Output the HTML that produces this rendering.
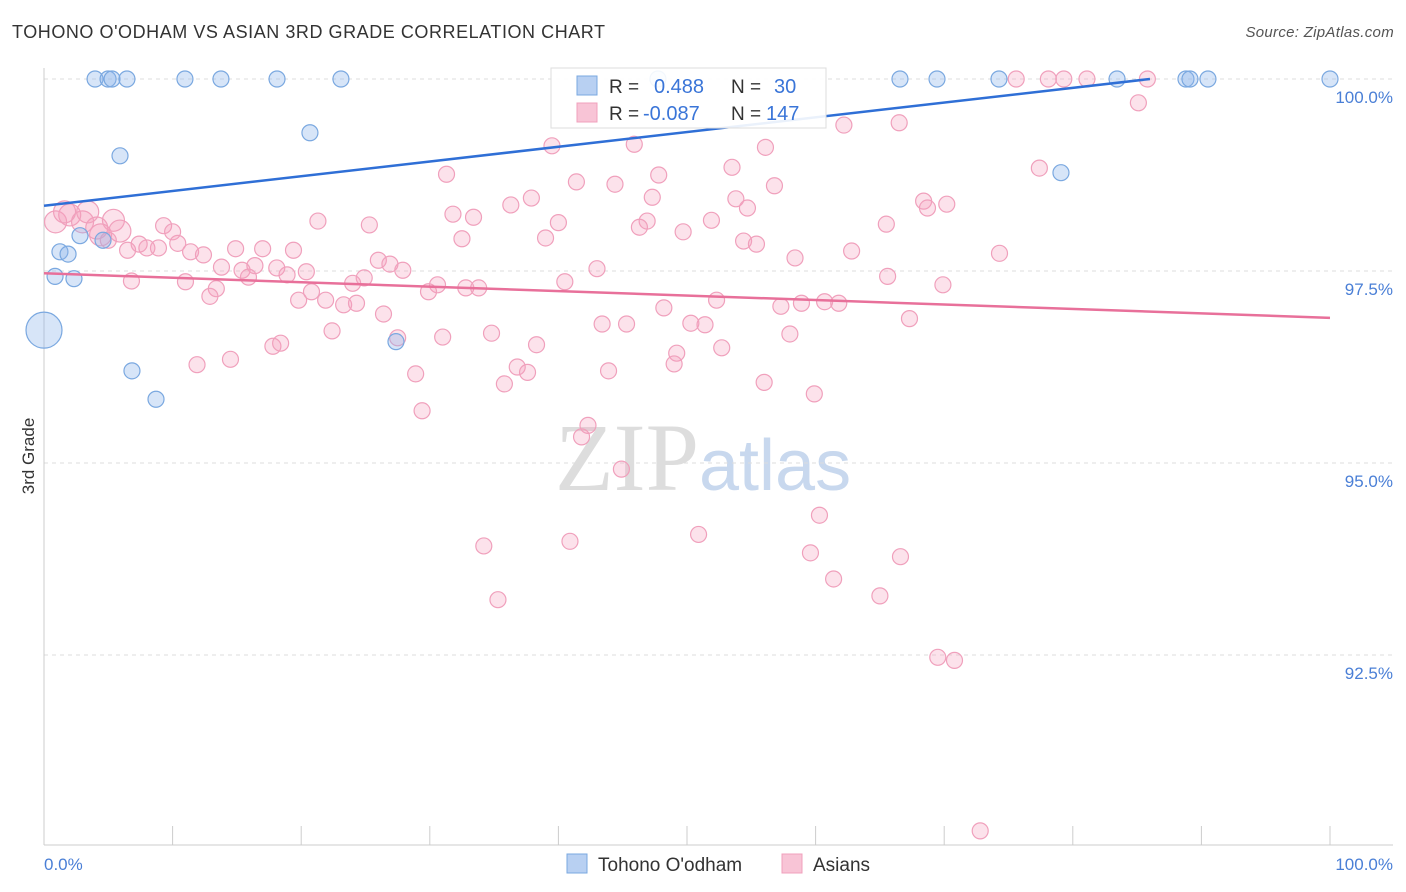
<!DOCTYPE html>
<html><head><meta charset="utf-8">
<style>
body{margin:0;background:#fff;font-family:"Liberation Sans",sans-serif;}
#wrap{position:relative;width:1406px;height:892px;overflow:hidden;}
.t{position:absolute;white-space:nowrap;}
</style></head>
<body>
<div id="wrap">
<div class="t" style="left:12px;top:22px;font-size:18px;color:#333;letter-spacing:0.55px">TOHONO O'ODHAM VS ASIAN 3RD GRADE CORRELATION CHART</div>
<div class="t" style="right:12px;top:24px;font-size:15px;color:#555;font-style:italic;letter-spacing:0.3px">Source: ZipAtlas.com</div>
<svg id="chart" width="1406" height="892" style="position:absolute;left:0;top:0"></svg>
</div>
<script>
const blueX=[3.97,4.98,5.29,6.45,10.96,13.76,18.12,23.09,47.74,66.56,69.44,74.26,83.44,88.8,89.11,90.51,100,20.68,5.91,79.08,2.8,4.59,1.24,1.87,0.86,2.33,0,27.37,6.84,8.71];
const blueY=[100,100,100,100,100,100,100,100,100,100,100,100,100,100,100,100,100,99.30,99.00,98.78,97.96,97.90,97.75,97.72,97.43,97.40,96.73,96.58,96.20,95.83];
const pinkX=[75.6,78.1,79.3,81.1,85.8,85.1,62.2,66.5,39.5,45.9,56.1,53.5,77.4,31.3,47.8,41.4,44.4,56.8,37.9,47.3,53.8,36.3,68.4,70.2,68.7,54.7,31.8,33.4,21.3,25.3,40.0,46.9,46.3,51.9,65.5,49.7,32.5,39.0,54.4,55.4,14.9,17.0,19.4,62.8,74.3,58.4,26.0,26.9,13.8,16.4,18.1,15.4,27.9,43.0,18.9,20.4,15.9,65.6,24.9,11.0,24.0,40.5,30.6,69.9,13.4,32.8,33.8,29.9,20.8,12.9,19.8,21.9,23.3,24.3,52.3,58.9,60.7,61.8,57.3,48.2,26.4,67.3,43.4,45.3,50.3,51.4,22.4,34.8,31.0,58.0,27.5,17.8,18.4,38.3,52.7,49.2,11.9,14.5,49.0,36.8,37.6,43.9,28.9,35.8,56.0,59.9,29.4,42.3,41.8,44.9,60.3,50.9,40.9,34.2,59.6,66.6,61.4,35.3,65.0,69.5,70.8,72.8,0.9,2.0,3.0,4.1,5.4,5.9,5.0,6.5,7.4,8.0,8.9,9.3,10.0,10.4,11.4,12.4,6.8,1.6,3.4,4.4];
const pinkY=[100,100,100,100,100,99.69,99.40,99.43,99.13,99.15,99.11,98.85,98.84,98.76,98.75,98.66,98.63,98.61,98.45,98.46,98.44,98.36,98.41,98.37,98.32,98.32,98.24,98.20,98.15,98.10,98.13,98.15,98.07,98.16,98.11,98.01,97.92,97.93,97.89,97.85,97.79,97.79,97.77,97.76,97.73,97.67,97.64,97.59,97.55,97.57,97.54,97.51,97.51,97.53,97.45,97.49,97.42,97.43,97.41,97.36,97.34,97.36,97.32,97.32,97.27,97.28,97.28,97.23,97.23,97.17,97.12,97.12,97.06,97.08,97.12,97.08,97.10,97.08,97.04,97.02,96.94,96.88,96.81,96.81,96.82,96.80,96.72,96.69,96.64,96.68,96.63,96.52,96.56,96.54,96.50,96.43,96.28,96.35,96.29,96.25,96.18,96.20,96.16,96.03,96.05,95.90,95.68,95.49,95.34,94.92,94.32,94.07,93.98,93.92,93.83,93.78,93.49,93.22,93.27,92.47,92.43,90.21,98.14,98.23,98.14,98.06,98.16,98.02,97.90,97.77,97.85,97.80,97.80,98.09,98.01,97.86,97.75,97.71,97.37,98.27,98.27,97.97];
const yTicks=[100,97.5,95,92.5];
const yTickLabels=["100.0%","97.5%","95.0%","92.5%"];
const blueLine=[[0,98.35],[86,100]];
const pinkLine=[[0,97.47],[100,96.89]];

const NS="http://www.w3.org/2000/svg";
const svg=document.getElementById('chart');
const X0=44,X1=1330,YT=79,PX=76.8;
const sx=v=>X0+(X1-X0)*v/100;
const sy=v=>YT+(100-v)*PX;
function mk(tag,attrs,parent){const e=document.createElementNS(NS,tag);for(const k in attrs)e.setAttribute(k,attrs[k]);(parent||svg).appendChild(e);return e;}

const wm=mk('text',{x:555,y:490,'font-size':96,'font-family':'Liberation Serif,serif',fill:'#ddd'});


wm.innerHTML='ZIP<tspan font-family="Liberation Sans,sans-serif" fill="#c8d8ee" font-size="72">atlas</tspan>';

yTicks.forEach((v,i)=>{
  const g=mk('line',{x1:X0,x2:1393,y1:sy(v),y2:sy(v),stroke:'#ddd','stroke-dasharray':'4,4'});
  
  
  const t=mk('text',{x:1393,y:sy(v)+24,'text-anchor':'end','font-size':17,fill:'#4a7fd6'});
  t.textContent=yTickLabels[i];
  
  
});
mk('line',{x1:X0,x2:1393,y1:845,y2:845,stroke:'#ccc'});
mk('line',{x1:X0,x2:X0,y1:68,y2:845,stroke:'#ccc'});
for(let i=0;i<=10;i++){const tk=mk('line',{x1:sx(i*10),x2:sx(i*10),y1:826,y2:845,stroke:'#ccc'});

}
const xl=mk('text',{x:44,y:870,'font-size':17,fill:'#4a7fd6'});xl.textContent='0.0%';


const xr=mk('text',{x:1393,y:870,'font-size':17,fill:'#4a7fd6','text-anchor':'end'});xr.textContent='100.0%';


const yt=mk('text',{x:34,y:456,'font-size':17,fill:'#333','text-anchor':'middle',transform:'rotate(-90 34 456)'});yt.textContent='3rd Grade';



pinkX.forEach((x,i)=>{
  const big=x<6&&pinkY[i]>97.9;
  const c=mk('circle',{cx:sx(x),cy:sy(pinkY[i]),r:big?11:8,fill:'rgba(244,160,190,0.3)',stroke:'#f0a0bc','stroke-width':1.2});
  
  
});
blueX.forEach((x,i)=>{
  const big=x===0;
  const c=mk('circle',{cx:sx(x),cy:sy(blueY[i]),r:big?18:8,fill:'rgba(140,180,235,0.35)',stroke:'#7aa8e0','stroke-width':1.2});
  
  
});
const bl=mk('line',{x1:sx(blueLine[0][0]),y1:sy(blueLine[0][1]),x2:sx(blueLine[1][0]),y2:sy(blueLine[1][1]),stroke:'#2f6fd6','stroke-width':2.5});


const pl=mk('line',{x1:sx(pinkLine[0][0]),y1:sy(pinkLine[0][1]),x2:sx(pinkLine[1][0]),y2:sy(pinkLine[1][1]),stroke:'#e8709a','stroke-width':2.5});



const lg=mk('g',{});


mk('rect',{x:551,y:68,width:275,height:60,fill:'rgba(255,255,255,0.9)',stroke:'#ddd'},lg);
mk('rect',{x:577,y:76,width:20,height:19,fill:'#b8d0f2',stroke:'#7aa8e0'},lg);
mk('rect',{x:577,y:103,width:20,height:19,fill:'#f8c4d6',stroke:'#f0a0bc'},lg);
const rows=[[93,'0.488','30'],[120,'-0.087','147']];
rows.forEach(r=>{
  let t=mk('text',{x:609,y:r[0],'font-size':19,fill:'#333'},lg);t.textContent='R =';
  t=mk('text',{x:643,y:r[0],'font-size':20,fill:'#3a75d8'},lg);t.textContent=r[1];
  t.setAttribute('x', r[1].length>5?643:654);
  t=mk('text',{x:731,y:r[0],'font-size':19,fill:'#333'},lg);t.textContent='N =';
  t=mk('text',{x:r[2].length>2?766:774,y:r[0],'font-size':20,fill:'#3a75d8'},lg);t.textContent=r[2];
});
const bl2=mk('g',{});


mk('rect',{x:567,y:854,width:20,height:19,fill:'#b8d0f2',stroke:'#7aa8e0'},bl2);
let tt=mk('text',{x:598,y:871,'font-size':19,fill:'#333'},bl2);tt.textContent="Tohono O'odham";
mk('rect',{x:782,y:854,width:20,height:19,fill:'#f8c4d6',stroke:'#f0a0bc'},bl2);
tt=mk('text',{x:813,y:871,'font-size':19,fill:'#333'},bl2);tt.textContent='Asians';
</script>
</body></html>
